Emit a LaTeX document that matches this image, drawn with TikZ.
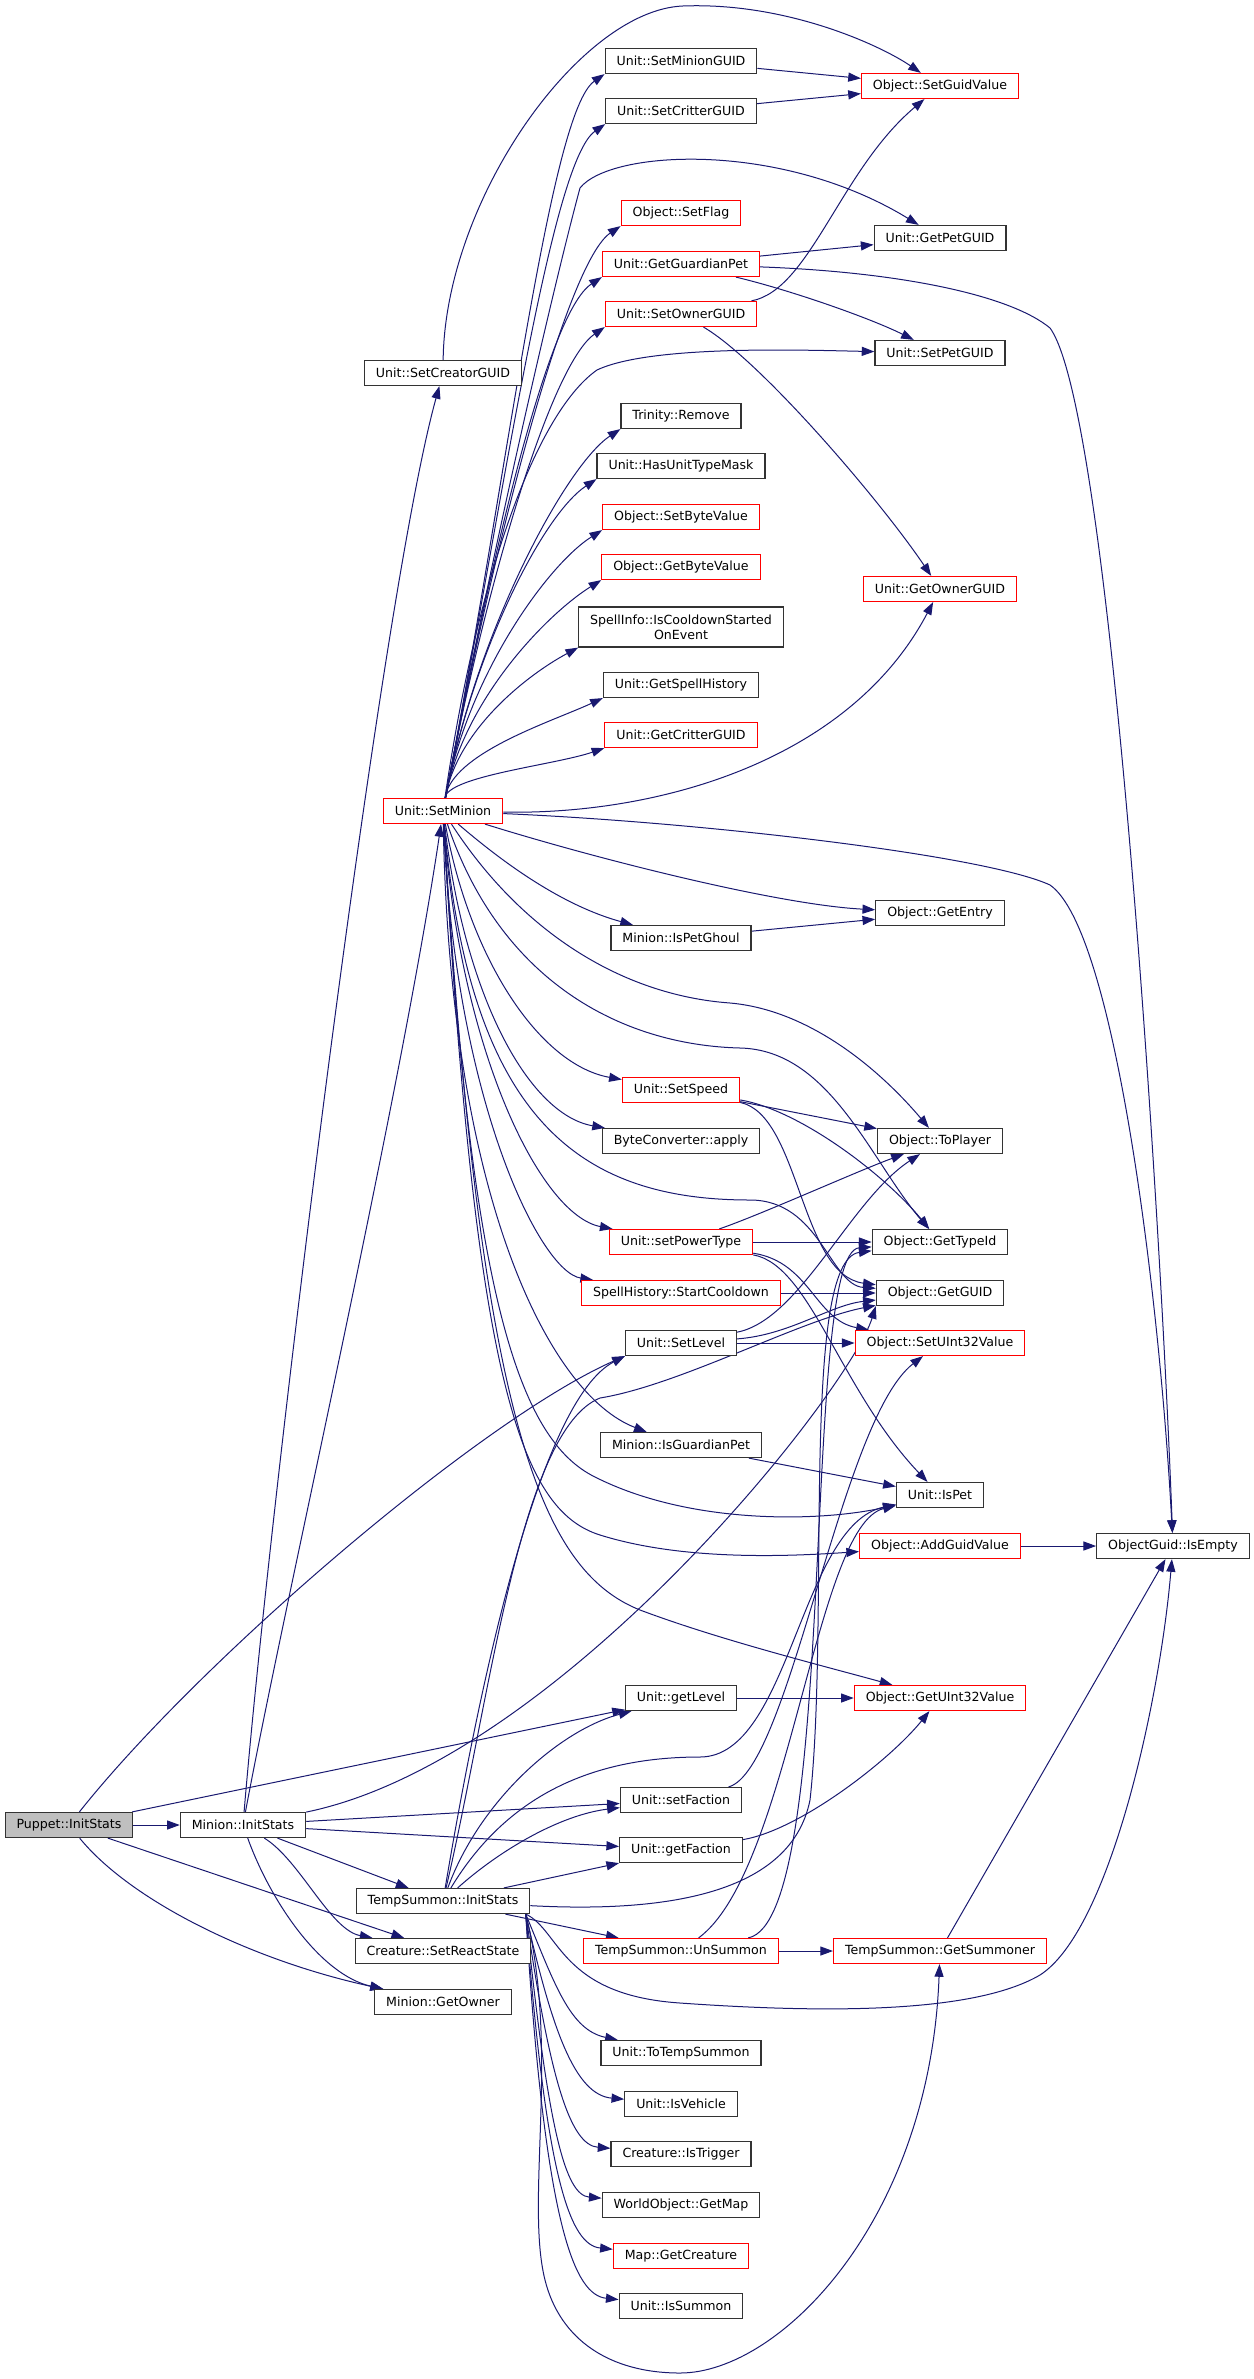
\documentclass[tikz,border=0pt]{standalone}
\usepackage{fontspec}
\setmainfont{DejaVu Sans}
\usetikzlibrary{arrows.meta,backgrounds}
\definecolor{edgeblue}{RGB}{25,25,112}
\definecolor{boxred}{RGB}{255,0,0}
\definecolor{boxgray}{RGB}{191,191,191}
\begin{document}
\begin{tikzpicture}[x=0.75pt,y=-0.75pt,
  fn/.style={draw=black!80,fill=white,line width=0.9pt,rectangle,minimum height=18.75pt,
    inner xsep=8.6pt,inner ysep=0pt,align=center,font=\fontsize{9.45pt}{11.3pt}\selectfont},
  fnred/.style={fn,draw=boxred},
  fnroot/.style={fn,fill=boxgray},
  call/.style={draw=edgeblue,line width=0.75pt,-{Triangle[length=9.5pt,width=6.8pt]}}]
\useasboundingbox (0,0) rectangle (1253,2379);
\node[fnroot] (puppet) at (69,1825) {Puppet::InitStats};
\node[fn] (mininit) at (243,1825) {Minion::InitStats};
\node[fn] (creator) at (443,373) {Unit::SetCreatorGUID};
\node[fnred] (setminion) at (443,811) {Unit::SetMinion};
\node[fn] (tsinit) at (443,1901) {TempSummon::InitStats};
\node[fn] (reactstate) at (443,1951) {Creature::SetReactState};
\node[fn] (getowner) at (443,2002) {Minion::GetOwner};
\node[fn] (minionguid) at (681,61) {Unit::SetMinionGUID};
\node[fn] (critterguid) at (681,111) {Unit::SetCritterGUID};
\node[fnred] (setflag) at (681,213) {Object::SetFlag};
\node[fnred] (guardianpet) at (681,264) {Unit::GetGuardianPet};
\node[fnred] (setowner) at (681,314) {Unit::SetOwnerGUID};
\node[fn] (remove) at (681,416) {Trinity::Remove};
\node[fn] (unittypemask) at (681,466) {Unit::HasUnitTypeMask};
\node[fnred] (setbyte) at (681,517) {Object::SetByteValue};
\node[fnred] (getbyte) at (681,567) {Object::GetByteValue};
\node[fn,minimum height=30pt] (cooldownev) at (681,627) {SpellInfo::IsCooldownStarted\\OnEvent};
\node[fn] (spellhist) at (681,685) {Unit::GetSpellHistory};
\node[fnred] (getcritter) at (681,735) {Unit::GetCritterGUID};
\node[fn] (petghoul) at (681,938) {Minion::IsPetGhoul};
\node[fnred] (setspeed) at (681,1090) {Unit::SetSpeed};
\node[fn] (byteconv) at (681,1141) {ByteConverter::apply};
\node[fnred] (powertype) at (681,1242) {Unit::setPowerType};
\node[fnred] (startcd) at (681,1293) {SpellHistory::StartCooldown};
\node[fn] (setlevel) at (681,1343) {Unit::SetLevel};
\node[fn] (isguardian) at (681,1445) {Minion::IsGuardianPet};
\node[fn] (getlevel) at (681,1698) {Unit::getLevel};
\node[fn] (setfaction) at (681,1800) {Unit::setFaction};
\node[fn] (getfaction) at (681,1850) {Unit::getFaction};
\node[fnred] (unsummon) at (681,1951) {TempSummon::UnSummon};
\node[fn] (totemp) at (681,2053) {Unit::ToTempSummon};
\node[fn] (isvehicle) at (681,2104) {Unit::IsVehicle};
\node[fn] (istrigger) at (681,2154) {Creature::IsTrigger};
\node[fn] (getmap) at (681,2205) {WorldObject::GetMap};
\node[fnred] (getcreature) at (681,2256) {Map::GetCreature};
\node[fn] (issummon) at (681,2306) {Unit::IsSummon};
\node[fnred] (setguid) at (940,86) {Object::SetGuidValue};
\node[fn] (getpetguid) at (940,238) {Unit::GetPetGUID};
\node[fn] (setpetguid) at (940,353) {Unit::SetPetGUID};
\node[fnred] (getownerguid) at (940,589) {Unit::GetOwnerGUID};
\node[fn] (getentry) at (940,913) {Object::GetEntry};
\node[fn] (toplayer) at (940,1141) {Object::ToPlayer};
\node[fn] (gettypeid) at (940,1242) {Object::GetTypeId};
\node[fn] (getguid) at (940,1293) {Object::GetGUID};
\node[fnred] (setuint) at (940,1343) {Object::SetUInt32Value};
\node[fn] (ispet) at (940,1495) {Unit::IsPet};
\node[fnred] (addguid) at (940,1546) {Object::AddGuidValue};
\node[fnred] (getuint) at (940,1698) {Object::GetUInt32Value};
\node[fnred] (getsummoner) at (940,1951) {TempSummon::GetSummoner};
\node[fn] (isempty) at (1173,1546) {ObjectGuid::IsEmpty};
\begin{pgfonlayer}{background}
\draw[call] (puppet) -- (mininit);
\draw[call] (puppet) .. controls (200,1660) and (480,1420) .. (setlevel.south west);
\draw[call] (puppet) -- (getlevel);
\draw[call] (puppet) -- (reactstate);
\draw[call] (puppet) .. controls (130,1900) and (250,1960) .. (getowner);
\draw[call] (mininit) .. controls (270,1500) and (380,600) .. (creator);
\draw[call] (mininit) .. controls (285,1600) and (400,1100) .. (setminion);
\draw[call] (mininit) .. controls (560,1760) and (850,1390) .. (getguid.south west);
\draw[call] (mininit) -- (tsinit);
\draw[call] (mininit) .. controls (300,1860) and (330,1930) .. (reactstate);
\draw[call] (mininit) .. controls (270,1900) and (320,1975) .. (getowner);
\draw[call] (mininit) -- (setfaction);
\draw[call] (mininit) -- (getfaction);
\draw[call] (creator) .. controls (445,200) and (580,10) .. (683,6) .. controls (786,2) and (880,45) .. (setguid);
\draw[call] (setminion) .. controls (508,472) and (550,112) .. (minionguid.south west);
\draw[call] (setminion) .. controls (504,495) and (551,162) .. (critterguid.south west);
\draw[call] (setminion) .. controls (494,541) and (567,262) .. (setflag.south west);
\draw[call] (setminion) .. controls (490,563) and (547,313) .. (guardianpet.south west);
\draw[call] (setminion) .. controls (485,586) and (551,364) .. (setowner.south west);
\draw[call] (setminion) .. controls (476,632) and (566,465) .. (remove.south west);
\draw[call] (setminion) .. controls (472,655) and (542,515) .. (unittypemask.south west);
\draw[call] (setminion) .. controls (467,677) and (547,565) .. (setbyte.south west);
\draw[call] (setminion) .. controls (463,700) and (547,614) .. (getbyte.south west);
\draw[call] (setminion) .. controls (457,730) and (527,675) .. (cooldownev.south west);
\draw[call] (setminion) .. controls (452,753) and (551,722) .. (spellhist.south west);
\draw[call] (setminion) .. controls (448,776) and (555,765) .. (getcritter.south west);
\draw[call] (setminion) .. controls (490,560) and (555,280) .. (580,188) .. controls (610,150) and (780,140) .. (getpetguid);
\draw[call] (setminion) .. controls (480,560) and (540,410) .. (597,370) .. controls (650,345) and (800,350) .. (setpetguid);
\draw[call] (setminion) .. controls (660,815) and (850,760) .. (getownerguid);
\draw[call] (setminion) .. controls (700,822) and (985,855) .. (1050,885) .. controls (1115,930) and (1160,1300) .. (isempty);
\draw[call] (setminion) .. controls (600,860) and (780,905) .. (getentry);
\draw[call] (setminion) .. controls (500,860) and (560,905) .. (petghoul);
\draw[call] (setminion) .. controls (520,930) and (620,995) .. (730,1003) .. controls (810,1010) and (880,1070) .. (toplayer);
\draw[call] (setminion) .. controls (500,980) and (620,1045) .. (740,1048) .. controls (830,1050) and (870,1160) .. (gettypeid);
\draw[call] (setminion) .. controls (470,960) and (540,1065) .. (setspeed);
\draw[call] (setminion) .. controls (465,1000) and (530,1115) .. (byteconv);
\draw[call] (setminion) .. controls (460,1050) and (540,1215) .. (powertype);
\draw[call] (setminion) .. controls (455,1100) and (540,1272) .. (startcd);
\draw[call] (setminion) .. controls (470,1120) and (580,1200) .. (750,1200) .. controls (820,1200) and (830,1285) .. (getguid);
\draw[call] (setminion) .. controls (450,1200) and (550,1395) .. (isguardian);
\draw[call] (setminion) .. controls (470,1300) and (520,1440) .. (595,1477) .. controls (690,1525) and (820,1522) .. (ispet);
\draw[call] (setminion) .. controls (475,1380) and (520,1510) .. (600,1535) .. controls (680,1560) and (780,1557) .. (addguid);
\draw[call] (setminion) .. controls (480,1420) and (540,1570) .. (640,1610) .. controls (720,1640) and (820,1665) .. (getuint);
\draw[call] (minionguid) -- (setguid);
\draw[call] (critterguid) -- (setguid);
\draw[call] (setowner) .. controls (810,290) and (840,170) .. (setguid);
\draw[call] (setowner) .. controls (760,360) and (880,500) .. (getownerguid);
\draw[call] (guardianpet) -- (getpetguid);
\draw[call] (guardianpet) .. controls (790,290) and (870,318) .. (setpetguid);
\draw[call] (guardianpet) .. controls (900,272) and (1010,295) .. (1050,328) .. controls (1110,410) and (1160,1200) .. (isempty);
\draw[call] (petghoul) -- (getentry);
\draw[call] (setspeed) -- (toplayer);
\draw[call] (setspeed) .. controls (800,1110) and (885,1175) .. (gettypeid);
\draw[call] (setspeed) .. controls (800,1115) and (800,1275) .. (getguid);
\draw[call] (powertype) .. controls (760,1215) and (860,1170) .. (toplayer);
\draw[call] (powertype) -- (gettypeid);
\draw[call] (powertype) .. controls (810,1262) and (815,1320) .. (setuint);
\draw[call] (powertype) .. controls (810,1265) and (840,1390) .. (ispet);
\draw[call] (startcd) -- (getguid);
\draw[call] (setlevel) .. controls (800,1320) and (850,1200) .. (toplayer);
\draw[call] (setlevel) .. controls (790,1335) and (830,1305) .. (getguid);
\draw[call] (setlevel) -- (setuint);
\draw[call] (isguardian) -- (ispet);
\draw[call] (getlevel) -- (getuint);
\draw[call] (setfaction) .. controls (790,1770) and (840,1420) .. (setuint);
\draw[call] (getfaction) .. controls (800,1830) and (890,1760) .. (getuint);
\draw[call] (unsummon) -- (getsummoner);
\draw[call] (unsummon) .. controls (790,1870) and (815,1525) .. (ispet);
\draw[call] (unsummon) .. controls (840,1920) and (800,1252) .. (gettypeid);
\draw[call] (tsinit) .. controls (480,1680) and (540,1400) .. (setlevel.south west);
\draw[call] (tsinit) .. controls (490,1700) and (520,1430) .. (600,1398) .. controls (680,1385) and (800,1320) .. (getguid);
\draw[call] (tsinit) .. controls (480,1800) and (560,1730) .. (getlevel);
\draw[call] (tsinit) .. controls (500,1850) and (560,1815) .. (setfaction);
\draw[call] (tsinit) -- (getfaction.south west);
\draw[call] (tsinit) .. controls (510,1790) and (600,1757) .. (700,1757) .. controls (790,1757) and (800,1525) .. (ispet);
\draw[call] (tsinit) .. controls (650,1912) and (790,1900) .. (810,1800) .. controls (830,1620) and (800,1260) .. (gettypeid);
\draw[call] (tsinit) -- (unsummon);
\draw[call] (tsinit.351) .. controls (560,1930) and (560,1995) .. (680,2003) .. controls (850,2015) and (980,2010) .. (1040,1975) .. controls (1110,1930) and (1160,1700) .. (isempty);
\draw[call] (tsinit.351) .. controls (560,2050) and (525,2200) .. (545,2280) .. controls (560,2340) and (610,2373) .. (680,2373) .. controls (780,2373) and (930,2220) .. (getsummoner);
\draw[call] (tsinit.351) .. controls (555,1985) and (570,2030) .. (totemp);
\draw[call] (tsinit.351) .. controls (552,2030) and (575,2095) .. (isvehicle);
\draw[call] (tsinit.351) .. controls (550,2080) and (570,2145) .. (istrigger);
\draw[call] (tsinit.351) .. controls (548,2130) and (565,2195) .. (getmap);
\draw[call] (tsinit.351) .. controls (546,2180) and (570,2245) .. (getcreature);
\draw[call] (tsinit.351) .. controls (545,2230) and (575,2295) .. (issummon);
\draw[call] (getsummoner) -- (isempty);
\draw[call] (addguid) -- (isempty);
\end{pgfonlayer}
\end{tikzpicture}
\end{document}
